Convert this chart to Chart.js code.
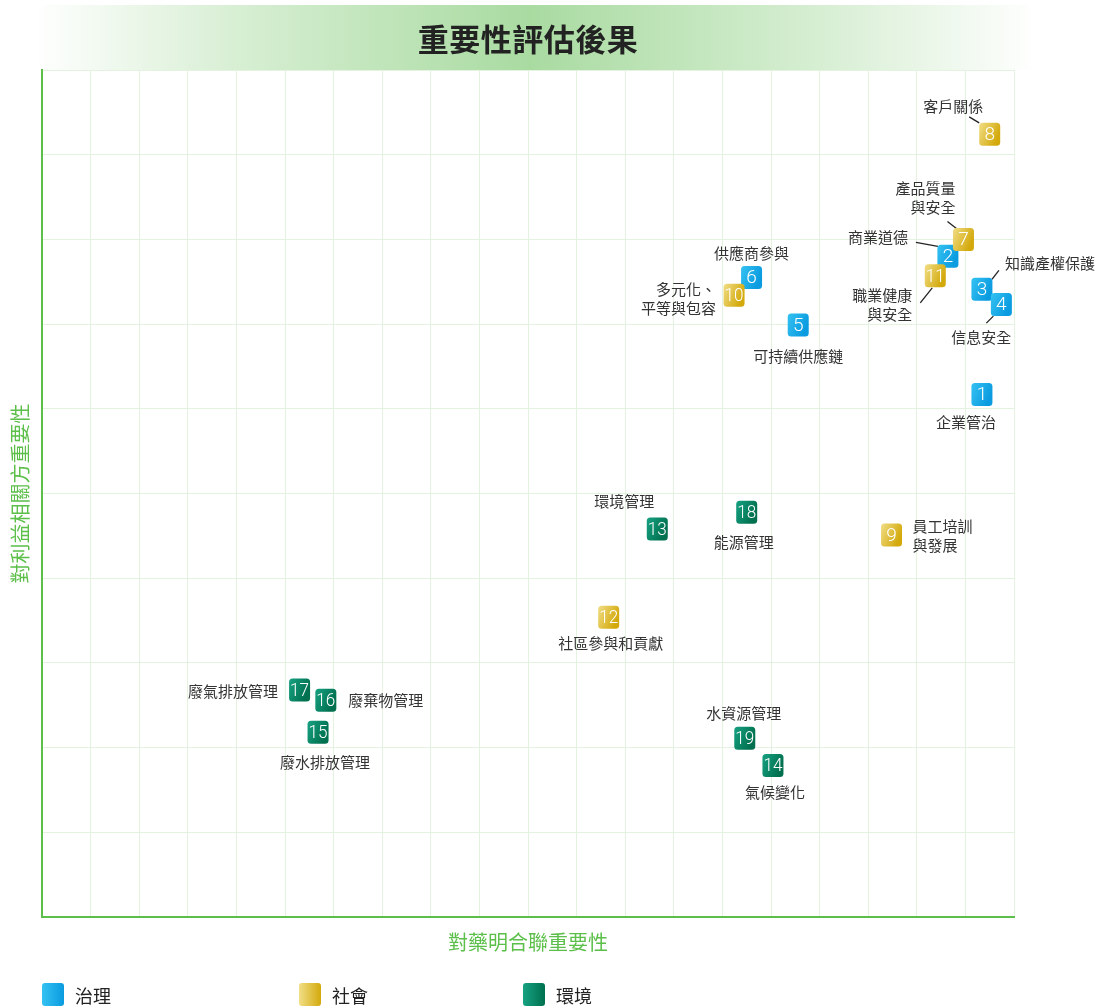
<!DOCTYPE html>
<html>
<head>
<meta charset="utf-8">
<script src="https://cdn.jsdelivr.net/npm/chart.js@4/dist/chart.umd.min.js"></script>
<style>
  html, body { margin: 0; padding: 0; background: #ffffff; }
  #wrap { position: relative; width: 1104px; height: 1008px; overflow: hidden; font-family: 'Noto Sans CJK TC', 'Noto Sans', sans-serif; }
  #banner { position: absolute; left: 0; top: 5px; width: 1104px; height: 65px;
    background: linear-gradient(to right, rgba(255,255,255,0) 3%, rgba(214,238,210,1) 22%, #a9dba1 48%, rgba(214,238,210,1) 74%, rgba(255,255,255,0) 94%); }
  #title { position: absolute; left: 0; top: 5px; width: 1056px; height: 65px; line-height: 65px; text-align: center;
    font-size: 31px; font-weight: 700; color: #222; letter-spacing: 0.5px; }
  #chartBox { position: absolute; left: 0; top: 0; width: 1104px; height: 1008px; }
  .leg { position: absolute; top: 983px; height: 23px; display: flex; align-items: center; font-size: 18px; color: #222; }
  .sw { width: 22px; height: 23px; border-radius: 3px; margin-right: 11px; }
</style>
</head>
<body>
<div id="wrap">
  <div id="banner"></div>
  <div id="chartBox"><canvas id="c" width="1104" height="1008"></canvas></div>
  <div id="title">重要性評估後果</div>
  <div class="leg" style="left:42px"><div class="sw" style="background:linear-gradient(to right,#35c2f2,#0a9be0)"></div>治理</div>
  <div class="leg" style="left:299px"><div class="sw" style="background:linear-gradient(to right,#f1de86,#d3a90c)"></div>社會</div>
  <div class="leg" style="left:523px"><div class="sw" style="background:linear-gradient(to right,#17a282,#00704f)"></div>環境</div>
</div>
<script>
// ---- data ----
const ids = [1,2,3,4,5,6,7,8,9,10,11,12,13,14,15,16,17,18,19];
const names = ['企業管治','商業道德','知識產權保護','信息安全','可持續供應鏈','供應商參與',
  '產品質量\n與安全','客戶關係','員工培訓\n與發展','多元化、\n平等與包容','職業健康\n與安全','社區參與和貢獻',
  '環境管理','氣候變化','廢水排放管理','廢棄物管理','廢氣排放管理','能源管理','水資源管理'];
const groups = ['治理','治理','治理','治理','治理','治理',
  '社會','社會','社會','社會','社會','社會',
  '環境','環境','環境','環境','環境','環境','環境'];
const xVals = [9.67,9.32,9.67,9.87,7.78,7.30,9.48,9.75,8.74,7.12,9.19,5.83,6.33,7.52,2.84,2.92,2.65,7.25,7.23];
const yVals = [6.17,7.80,7.41,7.23,6.99,7.55,8.00,9.24,4.51,7.34,7.57,3.54,4.58,1.79,2.18,2.56,2.68,4.78,2.11];
const groupNames = ['治理','社會','環境'];
const xAxisTitle = '對藥明合聯重要性';
const yAxisTitle = '對利益相關方重要性';

// ---- styling / label placement (relative to marker centre) ----
const groupColors = {
  '治理': ['#35c2f2', '#0a9be0'],
  '社會': ['#f1de86', '#d3a90c'],
  '環境': ['#17a282', '#00704f']
};
// [dx, dy(first line), align, leader(x1,y1,x2,y2) or null]
const labelLayout = {
  1: [-16, 28, 'center', null],
  2: [-40, -19, 'right', [-32,-14,-10,-10]],
  3: [23, -26, 'left', [17,-19,10,-10]],
  4: [-20, 32.5, 'center', [-15,18.5,-8,11.5]],
  5: [0, 31, 'center', null],
  6: [0, -24, 'center', null],
  7: [-8, -51, 'right', [-16,-18,-7,-11]],
  8: [-36.5, -28.5, 'center', [-20.5,-17.5,-10.5,-11.5]],
  9: [21, -9, 'left', null],
  10: [-18, -6, 'right', null],
  11: [-23, 19, 'right', [-15,27,-3,12]],
  12: [2, 26, 'center', null],
  13: [-33, -28, 'center', null],
  14: [2, 27, 'center', null],
  15: [7, 30, 'center', null],
  16: [22.5, 0, 'left', null],
  17: [-21.5, 1, 'right', null],
  18: [-3, 30, 'center', null],
  19: [-1, -25, 'center', null]
};

const datasets = groupNames.map(g => ({
  label: g,
  data: ids.map((id, i) => ({x: xVals[i], y: yVals[i], id: id, name: names[i]})).filter((p, i) => groups[i] === g),
  pointRadius: 0,
  pointHoverRadius: 0,
  backgroundColor: groupColors[g][1]
}));

function roundRect(ctx, x, y, w, h, r) {
  ctx.beginPath();
  ctx.moveTo(x + r, y);
  ctx.lineTo(x + w - r, y);
  ctx.quadraticCurveTo(x + w, y, x + w, y + r);
  ctx.lineTo(x + w, y + h - r);
  ctx.quadraticCurveTo(x + w, y + h, x + w - r, y + h);
  ctx.lineTo(x + r, y + h);
  ctx.quadraticCurveTo(x, y + h, x, y + h - r);
  ctx.lineTo(x, y + r);
  ctx.quadraticCurveTo(x, y, x + r, y);
  ctx.closePath();
}

const markerPlugin = {
  id: 'markers',
  afterDatasetsDraw(chart) {
    const ctx = chart.ctx;
    const items = [];
    chart.data.datasets.forEach((ds, di) => {
      const meta = chart.getDatasetMeta(di);
      meta.data.forEach((el, j) => {
        items.push({x: el.x, y: el.y, id: ds.data[j].id, name: ds.data[j].name, group: ds.label});
      });
    });
    items.sort((a, b) => a.id - b.id);
    ctx.save();
    // labels + leaders
    ctx.font = '15px "Noto Sans CJK TC"';
    ctx.fillStyle = '#333333';
    ctx.textBaseline = 'middle';
    items.forEach(it => {
      const L = labelLayout[it.id];
      if (L[3]) {
        ctx.strokeStyle = '#222';
        ctx.lineWidth = 1.3;
        ctx.beginPath();
        ctx.moveTo(it.x + L[3][0], it.y + L[3][1]);
        ctx.lineTo(it.x + L[3][2], it.y + L[3][3]);
        ctx.stroke();
      }
      ctx.textAlign = L[2];
      it.name.split('\n').forEach((line, k) => {
        ctx.fillText(line, it.x + L[0], it.y + L[1] + k * 19);
      });
    });
    // markers
    items.forEach(it => {
      const w = 21, h = 23;
      const x0 = it.x - w / 2, y0 = it.y - h / 2;
      const c = groupColors[it.group];
      const g = ctx.createLinearGradient(x0, y0, x0 + w, y0 + h * 0.4);
      g.addColorStop(0, c[0]);
      g.addColorStop(1, c[1]);
      ctx.fillStyle = g;
      roundRect(ctx, x0, y0, w, h, 3.5);
      ctx.fill();
      ctx.fillStyle = '#ffffff';
      ctx.font = '300 19px Roboto';
      ctx.textAlign = 'center';
      ctx.textBaseline = 'middle';
      const txt = String(it.id);
      const tw = ctx.measureText(txt).width;
      ctx.save();
      ctx.translate(it.x, it.y + 1);
      if (tw > 19) ctx.scale(19 / tw, 1);
      ctx.fillText(txt, 0, 0);
      ctx.restore();
    });
    ctx.restore();
  }
};

new Chart(document.getElementById('c'), {
  type: 'scatter',
  data: { datasets },
  options: {
    responsive: false,
    animation: false,
    layout: { padding: { left: 0, top: 70, right: 90, bottom: 54 } },
    plugins: { legend: { display: false }, tooltip: { enabled: false }, title: { display: false } },
    scales: {
      x: {
        min: 0, max: 10,
        ticks: { display: false, stepSize: 0.5 },
        grid: { color: '#e4f2e0', lineWidth: 1, drawTicks: false },
        border: { color: '#5cbf4a', width: 2 },
        title: { display: true, text: xAxisTitle, color: '#5cbf4a', font: { size: 20, family: '"Noto Sans CJK TC"' }, padding: { top: 13, bottom: 0 } }
      },
      y: {
        min: 0, max: 10,
        ticks: { display: false, stepSize: 1 },
        grid: { color: '#e4f2e0', lineWidth: 1, drawTicks: false },
        border: { color: '#5cbf4a', width: 2 },
        title: { display: true, text: yAxisTitle, color: '#5cbf4a', font: { size: 20, family: '"Noto Sans CJK TC"' }, padding: { top: 8, bottom: 10 } }
      }
    }
  },
  plugins: [markerPlugin]
});
</script>
</body>
</html>
